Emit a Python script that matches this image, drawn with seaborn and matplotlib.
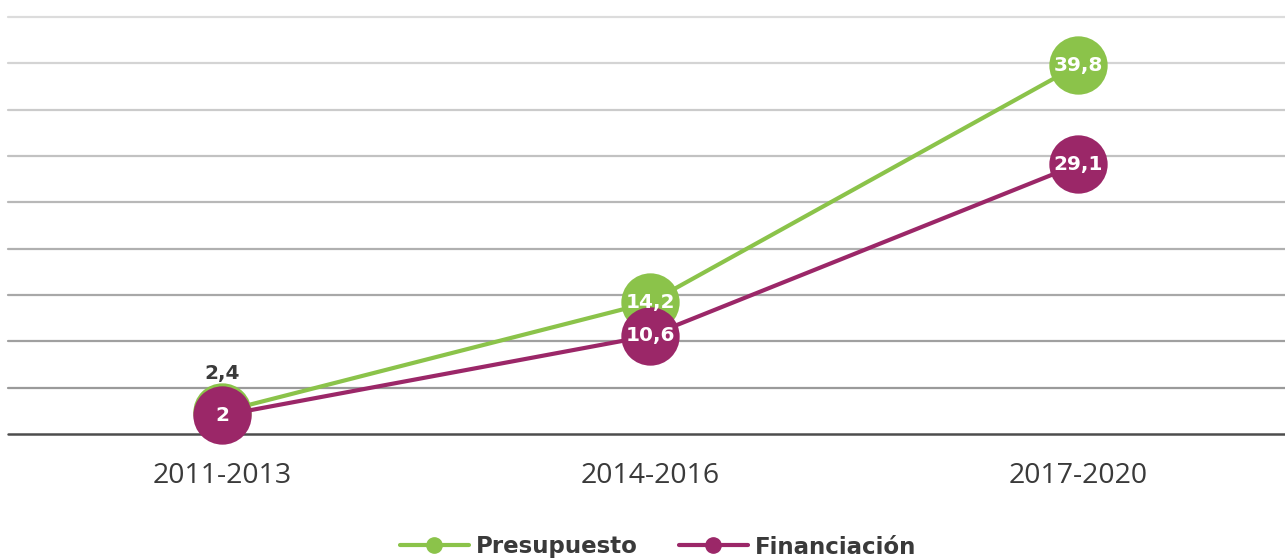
import pandas as pd
import matplotlib.pyplot as plt
import seaborn as sns
from matplotlib.lines import Line2D

# data
periods = ['2011-2013', '2014-2016', '2017-2020']
presupuesto = [2.4, 14.2, 39.8]
financiacion = [2.0, 10.6, 29.1]
labels_pres = ['2,4', '14,2', '39,8']
labels_fin = ['2', '10,6', '29,1']

green = '#8BC34A'
purple = '#9B2768'
dark = '#3a3a3a'

df = pd.DataFrame({
    'Periodo': periods * 2,
    'Valor': presupuesto + financiacion,
    'Serie': ['Presupuesto'] * 3 + ['Financiación'] * 3,
})
df['x'] = df['Periodo'].map({p: i for i, p in enumerate(periods)})

sns.set_style('white')
plt.rcParams['font.family'] = ['Open Sans', 'DejaVu Sans']
bold_font = {'family': 'DejaVu Sans', 'weight': 'bold'}

fig = plt.figure(figsize=(12.85, 5.6), dpi=100)
ax = fig.add_axes([8 / 1285, 126 / 560, 1277 / 1285, 417 / 560])

# gridlines, lighter towards the top
grid_vals = [5, 10, 15, 20, 25, 30, 35, 40, 45]
grid_cols = ['#9a9a9a', '#a0a0a0', '#a8a8a8', '#b0b0b0', '#b8b8b8',
             '#c2c2c2', '#cbcbcb', '#d4d4d4', '#dcdcdc']
for v, c in zip(grid_vals, grid_cols):
    ax.axhline(v, color=c, lw=1.6, zorder=0, clip_on=False)
ax.axhline(0, color='#4d4d4d', lw=1.8, zorder=0.5)

sns.lineplot(data=df, x='x', y='Valor', hue='Serie', palette=[green, purple],
             marker='o', markersize=42, markeredgewidth=0, linewidth=3,
             legend=False, ax=ax, zorder=3)
for ln in ax.lines:
    ln.set_clip_on(False)

# value labels
for i, (v, t) in enumerate(zip(presupuesto, labels_pres)):
    if i == 0:
        ax.text(i, v + 4.1, t, ha='center', va='center', color=dark,
                fontsize=14.5, fontdict=bold_font, zorder=5)
    else:
        ax.text(i, v, t, ha='center', va='center', color='white',
                fontsize=14.5, fontdict=bold_font, zorder=5)
for i, (v, t) in enumerate(zip(financiacion, labels_fin)):
    ax.text(i, v, t, ha='center', va='center', color='white',
            fontsize=14.5, fontdict=bold_font, zorder=5)

ax.set_xlim(-0.5, -0.5 + 1277 / 428)
ax.set_ylim(0, 45)
ax.set_xticks(range(len(periods)))
ax.set_xticklabels(periods, fontsize=20.5, color=dark)
ax.set_yticks([])
ax.tick_params(axis='x', length=0, pad=20)
ax.set_xlabel('')
ax.set_ylabel('')
for s in ax.spines.values():
    s.set_visible(False)

handles = [Line2D([0], [0], color=green, lw=3, marker='o', markersize=11),
           Line2D([0], [0], color=purple, lw=3, marker='o', markersize=11)]
fig.legend(handles, ['Presupuesto', 'Financiación'], loc='center',
           bbox_to_anchor=(0.512, 1 - 547 / 560), ncol=2, frameon=False,
           handlelength=3.0, columnspacing=1.8, handletextpad=0.3,
           prop={'family': 'DejaVu Sans', 'size': 16.5, 'weight': 'bold'},
           labelcolor=dark)

fig.savefig('out.png', dpi=100)
